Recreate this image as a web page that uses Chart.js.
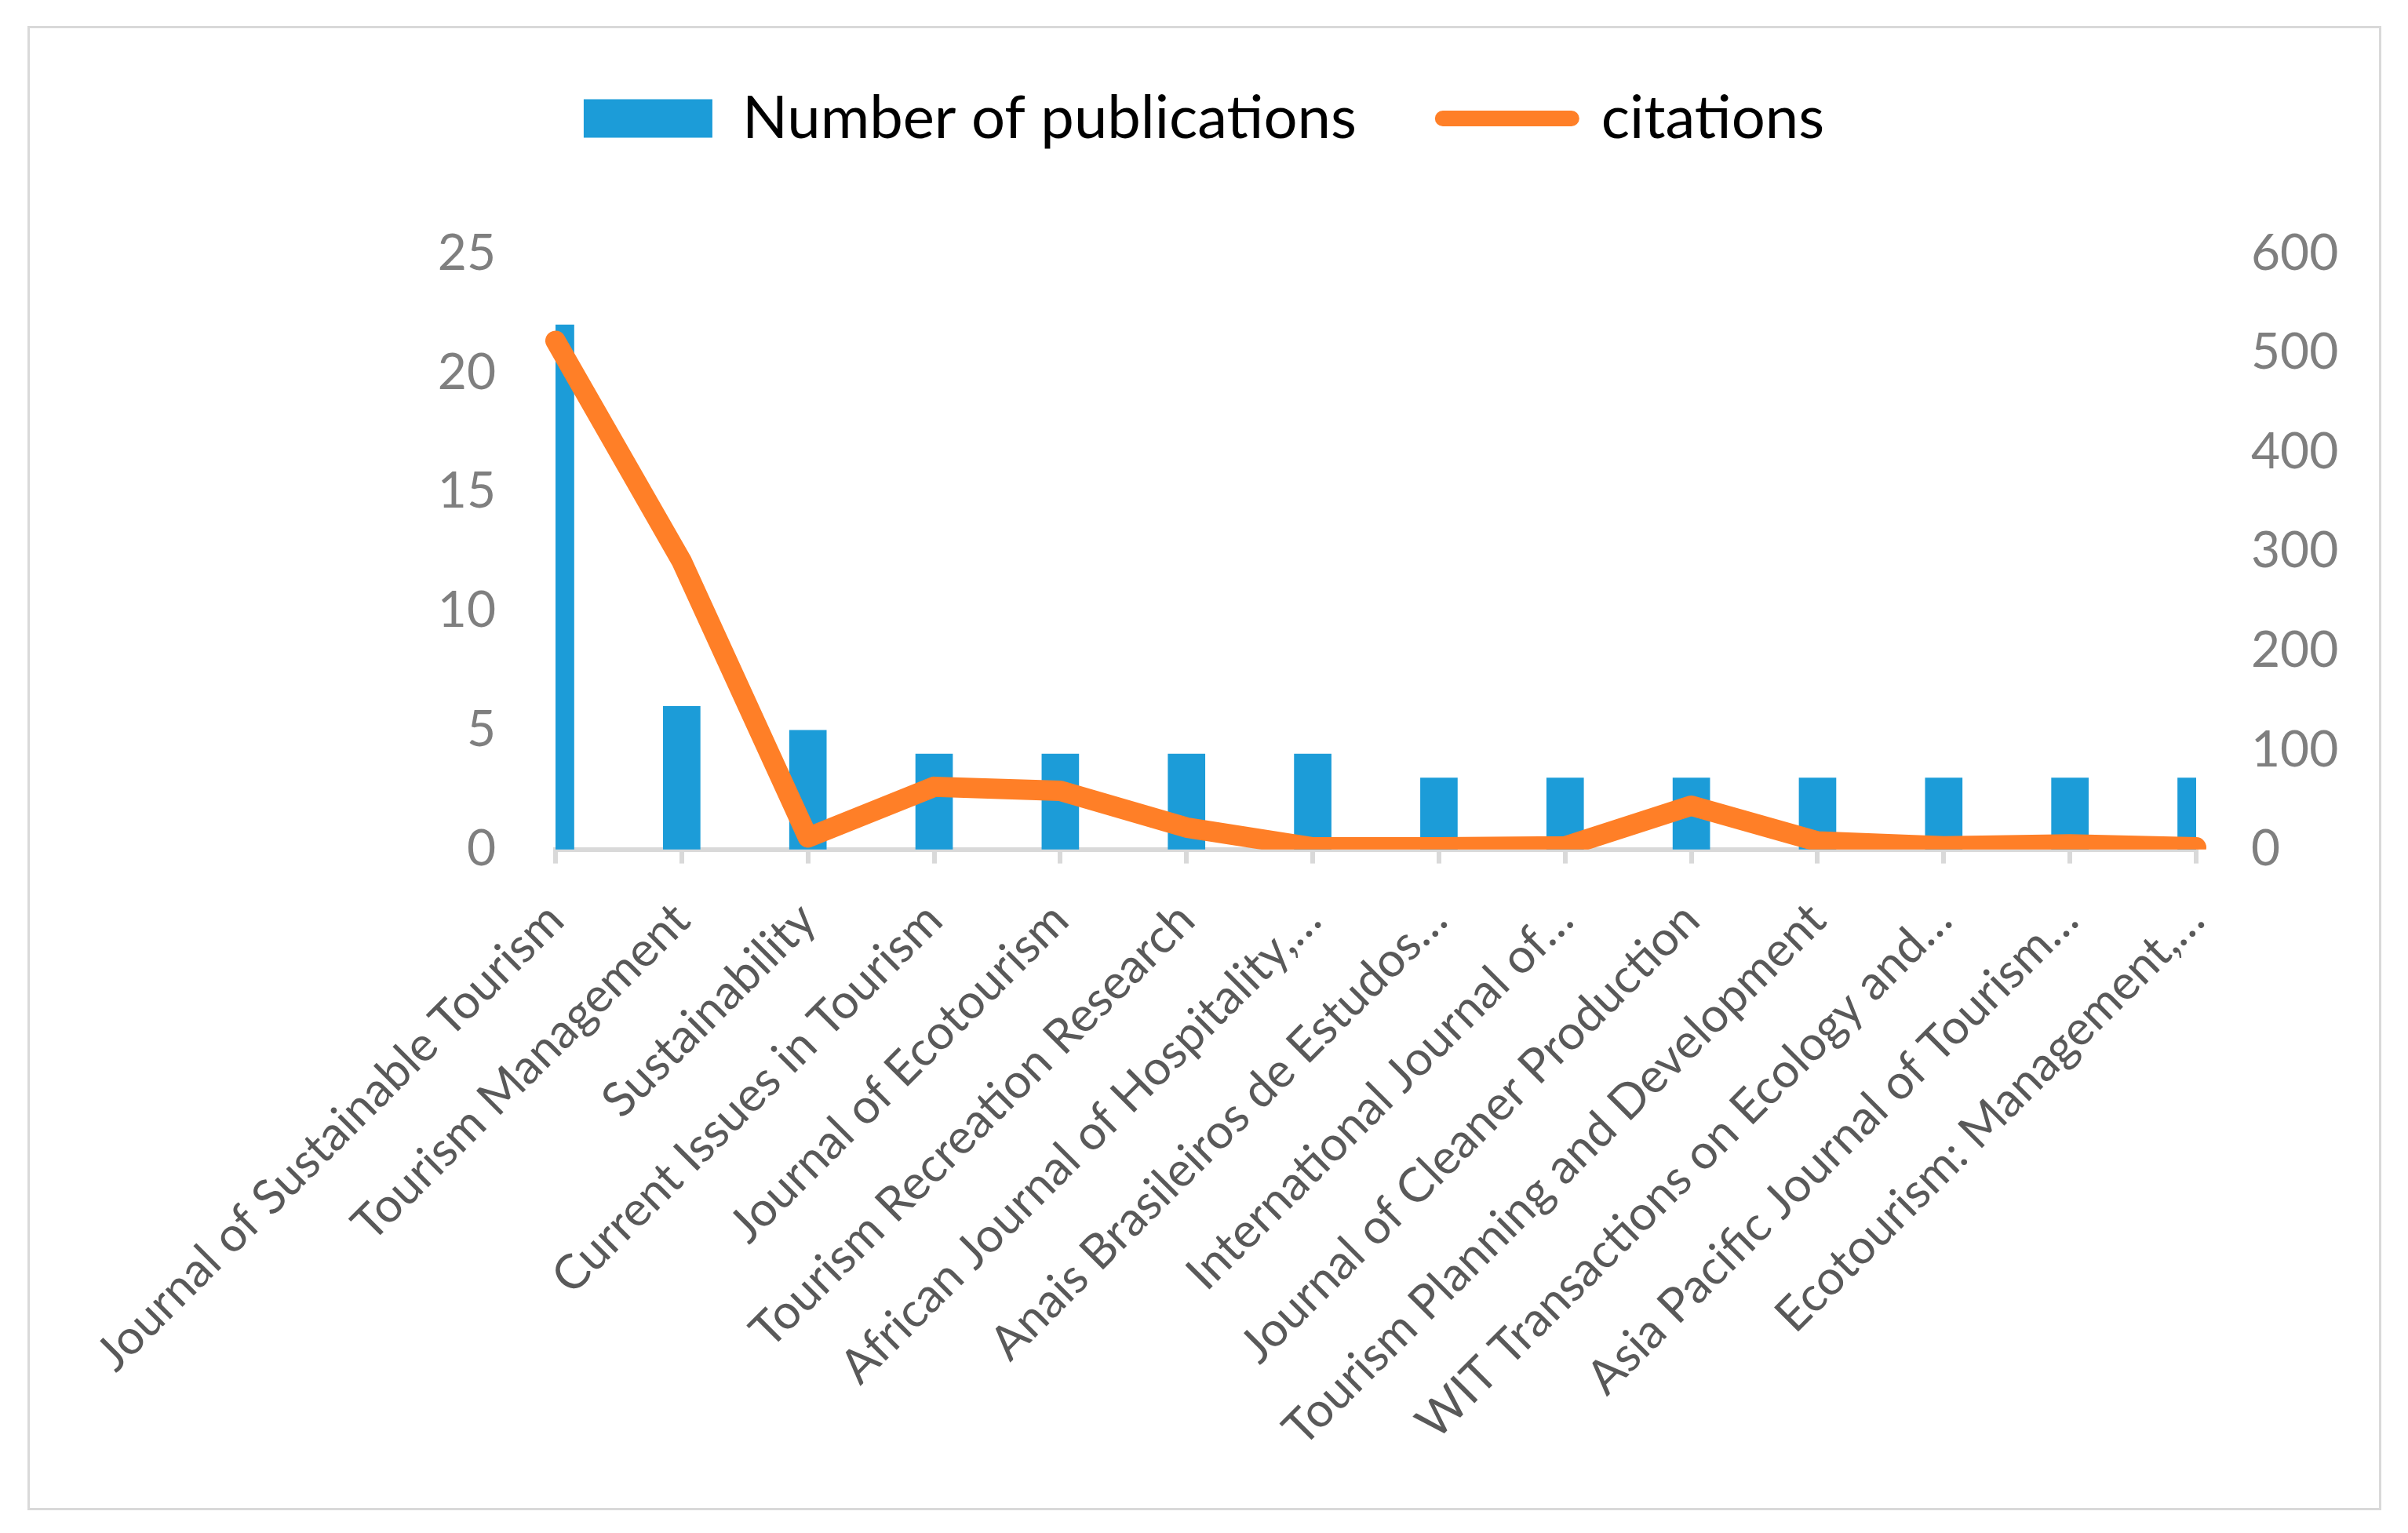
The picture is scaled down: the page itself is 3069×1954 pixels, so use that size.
<!DOCTYPE html>
<html>
<head>
<meta charset="utf-8">
<script src="https://cdn.jsdelivr.net/npm/chart.js@4.4.1/dist/chart.umd.min.js"></script>
<style>
  html, body { margin: 0; padding: 0; background: #fff; }
  #wrap { position: relative; width: 3069px; height: 1954px; }
  #frame { position: absolute; left: 35px; top: 33px; width: 2994px; height: 1886px; border: 3px solid #d9d9d9; pointer-events: none; }
  canvas { position: absolute; left: 0; top: 0; }
</style>
</head>
<body>
<div id="wrap">
  <canvas id="c" width="3069" height="1954"></canvas>
  <div id="frame"></div>
</div>
<script>
const categories = [
  "Journal of Sustainable Tourism",
  "Tourism Management",
  "Sustainability",
  "Current Issues in Tourism",
  "Journal of Ecotourism",
  "Tourism Recreation Research",
  "African Journal of Hospitality,…",
  "Anais Brasileiros de Estudos…",
  "International Journal of…",
  "Journal of Cleaner Production",
  "Tourism Planning and Development",
  "WIT Transactions on Ecology and…",
  "Asia Pacific Journal of Tourism…",
  "Ecotourism: Management,…"
];
const publications = [22, 6, 5, 4, 4, 4, 4, 3, 3, 3, 3, 3, 3, 3];
const citations = [512, 290, 12, 63, 59, 22, 2, 2, 3, 44, 8, 3, 5, 2];
const leftTicks = [0, 5, 10, 15, 20, 25];
const rightTicks = [0, 100, 200, 300, 400, 500, 600];

const BLUE = '#1c9cd8';
const ORANGE = '#ff7f27';
const FONT = 'Lato, "Open Sans", sans-serif';

const legendMargin = {
  id: 'legendMargin',
  beforeInit(chart) {
    const fit = chart.legend.fit;
    chart.legend.fit = function () {
      fit.bind(chart.legend)();
      this.height += 124;
    };
  }
};

new Chart(document.getElementById('c'), {
  data: {
    labels: categories,
    datasets: [
      {
        type: 'bar',
        label: 'Number of publications',
        data: publications,
        backgroundColor: BLUE,
        borderWidth: 0,
        barThickness: 47,
        yAxisID: 'y',
        order: 1
      },
      {
        type: 'line',
        label: 'citations',
        data: citations,
        borderColor: ORANGE,
        backgroundColor: ORANGE,
        borderWidth: 26,
        borderCapStyle: 'round',
        borderJoinStyle: 'round',
        pointRadius: 0,
        pointHoverRadius: 0,
        tension: 0,
        yAxisID: 'y1',
        order: 0
      }
    ]
  },
  options: {
    responsive: false,
    devicePixelRatio: 1,
    animation: false,
    layout: { padding: { left: 40, right: 40, top: 3, bottom: 60 } },
    plugins: {
      tooltip: { enabled: false },
      legend: {
        position: 'top',
        align: 'center',
        labels: {
          usePointStyle: true,
          pointStyleWidth: 164,
          boxHeight: 49,
          padding: 110,
          color: '#000',
          font: { family: FONT, size: 76 },
          generateLabels() {
            return [
              { text: 'Number of publications', fillStyle: BLUE, strokeStyle: BLUE, lineWidth: 0, pointStyle: 'rect', datasetIndex: 0, hidden: false },
              { text: 'citations', fillStyle: ORANGE, strokeStyle: ORANGE, lineWidth: 20, lineCap: 'round', pointStyle: 'line', datasetIndex: 1, hidden: false }
            ];
          }
        }
      }
    },
    scales: {
      x: {
        type: 'category',
        offset: false,
        grid: { display: true, offset: false, drawOnChartArea: false, drawTicks: true, tickLength: 18, color: '#d9d9d9', lineWidth: 6 },
        border: { display: true, color: '#d9d9d9', width: 6 },
        ticks: {
          autoSkip: false,
          maxRotation: 45,
          minRotation: 45,
          padding: 36,
          color: '#595959',
          font: { family: FONT, size: 61 }
        }
      },
      y: {
        position: 'left',
        min: 0,
        max: 25,
        afterBuildTicks(axis) { axis.ticks = leftTicks.map(v => ({ value: v })); },
        afterFit(axis) { axis.width = 668; },
        grid: { display: false },
        border: { display: false },
        ticks: { padding: 68, color: '#7f7f7f', font: { family: FONT, size: 64 } }
      },
      y1: {
        position: 'right',
        min: 0,
        max: 600,
        afterBuildTicks(axis) { axis.ticks = rightTicks.map(v => ({ value: v })); },
        afterFit(axis) { axis.width = 230; },
        grid: { display: false },
        border: { display: false },
        ticks: { padding: 62, color: '#7f7f7f', font: { family: FONT, size: 64 } }
      }
    }
  },
  plugins: [legendMargin]
});
</script>
</body>
</html>
